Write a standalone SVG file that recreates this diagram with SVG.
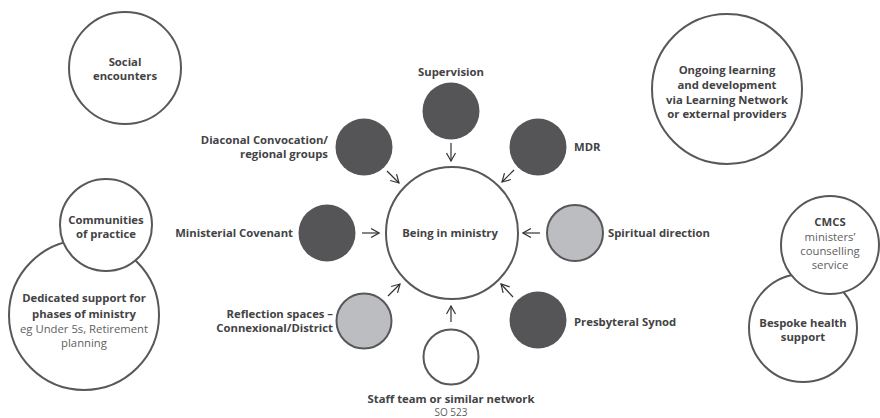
<svg xmlns="http://www.w3.org/2000/svg" width="880" height="418" viewBox="0 0 880 418">
<defs>
<style>
.t{font-family:"Open Sans","Liberation Sans",sans-serif;font-size:11.3px;fill:#434345;}
.b{font-weight:bold;}
.l{font-weight:normal;fill:#5f6062;}
.m{text-anchor:middle;}
.e{text-anchor:end;}
.o{fill:#ffffff;stroke:#58585a;stroke-width:2;}
.d{fill:#555557;}
.g{fill:#bcbdc0;stroke:#58585a;stroke-width:2;}
.c{stroke:#333335;stroke-width:1.2;fill:none;}
</style>
<marker id="ah" viewBox="0 0 10 10" refX="9" refY="5" markerWidth="10" markerHeight="10" markerUnits="userSpaceOnUse" orient="auto">
<path d="M1,0.5 L9,5 L1,9.5" fill="none" stroke="#333335" stroke-width="1.2"/>
</marker>
</defs>
<rect width="880" height="418" fill="#ffffff"/>

<g id="social">
<circle class="o" cx="125" cy="68" r="56"/>
<text class="t b m" x="125" y="66">Social</text>
<text class="t b m" x="125" y="80">encounters</text>
</g>

<g id="ongoing">
<circle class="o" cx="727" cy="89" r="75"/>
<text class="t b m" x="727" y="74">Ongoing learning</text>
<text class="t b m" x="727" y="89">and development</text>
<text class="t b m" x="727" y="104">via Learning Network</text>
<text class="t b m" x="727" y="118">or external providers</text>
</g>

<g id="dedicated">
<circle class="o" cx="84" cy="315" r="75"/>
<text class="t b m" x="84" y="302">Dedicated support for</text>
<text class="t b m" x="84" y="318">phases of ministry</text>
<text class="t l m" x="84" y="333">eg Under 5s, Retirement</text>
<text class="t l m" x="84" y="347">planning</text>
</g>

<g id="communities">
<circle class="o" cx="106" cy="225" r="46"/>
<text class="t b m" x="106" y="224">Communities</text>
<text class="t b m" x="106" y="238">of practice</text>
</g>

<g id="bespoke">
<circle class="o" cx="803" cy="328" r="54"/>
<text class="t b m" x="803" y="327">Bespoke health</text>
<text class="t b m" x="803" y="341">support</text>
</g>

<g id="cmcs">
<circle class="o" cx="830" cy="245" r="49"/>
<text class="t b m" x="830" y="226">CMCS</text>
<text class="t l m" x="830" y="241">ministers’</text>
<text class="t l m" x="830" y="255">counselling</text>
<text class="t l m" x="830" y="269">service</text>
</g>

<g id="being">
<circle class="o" cx="452" cy="233" r="66"/>
<text class="t b m" x="450" y="237">Being in ministry</text>
</g>

<g id="supervision">
<circle class="d" cx="451" cy="111" r="28.5"/>
<text class="t b m" x="451" y="76">Supervision</text>
</g>

<g id="diaconal">
<circle class="d" cx="364" cy="147" r="28.5"/>
<text class="t b e" x="328" y="144">Diaconal Convocation/</text>
<text class="t b e" x="328" y="158">regional groups</text>
</g>

<g id="mdr">
<circle class="d" cx="538" cy="147" r="28.5"/>
<text class="t b" x="574" y="151">MDR</text>
</g>

<g id="covenant">
<circle class="d" cx="327" cy="233" r="28.5"/>
<text class="t b e" x="293" y="237">Ministerial Covenant</text>
</g>

<g id="spiritual">
<circle class="g" cx="575" cy="233" r="28"/>
<text class="t b" x="608" y="237">Spiritual direction</text>
</g>

<g id="reflection">
<circle class="g" cx="364" cy="321" r="27.5"/>
<text class="t b e" x="333" y="318">Reflection spaces –</text>
<text class="t b e" x="333" y="332">Connexional/District</text>
</g>

<g id="presbyteral">
<circle class="d" cx="538" cy="320" r="28.5"/>
<text class="t b" x="574" y="326">Presbyteral Synod</text>
</g>

<g id="staff">
<circle class="o" cx="451" cy="357" r="27.5"/>
<text class="t b m" x="451" y="403">Staff team or similar network</text>
<text class="t l m" x="451" y="416" style="font-size:10px">SO 523</text>
</g>

<g id="connectors">
<line class="c" x1="451" y1="143" x2="451" y2="161" marker-end="url(#ah)"/>
<line class="c" x1="387" y1="171" x2="399" y2="183" marker-end="url(#ah)"/>
<line class="c" x1="514" y1="170" x2="502" y2="182" marker-end="url(#ah)"/>
<line class="c" x1="362" y1="233" x2="379" y2="233" marker-end="url(#ah)"/>
<line class="c" x1="540" y1="233" x2="523" y2="233" marker-end="url(#ah)"/>
<line class="c" x1="388" y1="296" x2="400" y2="284" marker-end="url(#ah)"/>
<line class="c" x1="513" y1="297" x2="501" y2="284" marker-end="url(#ah)"/>
<line class="c" x1="451" y1="322" x2="451" y2="306" marker-end="url(#ah)"/>
</g>
</svg>
